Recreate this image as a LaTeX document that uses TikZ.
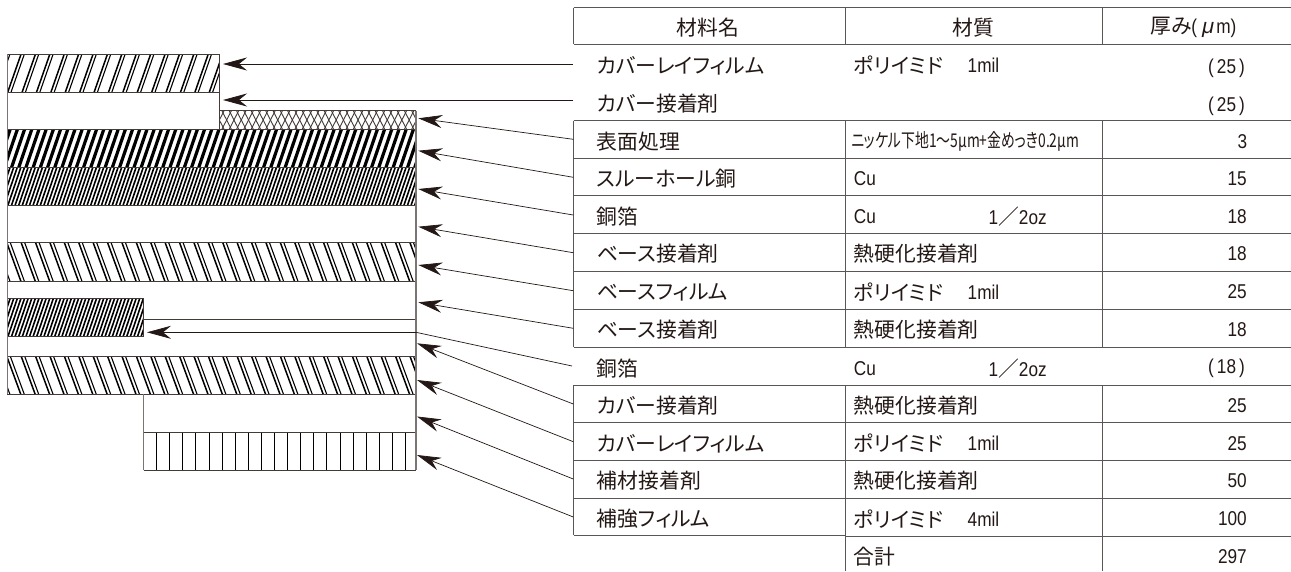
\documentclass[tikz,border=0pt]{standalone}
\usepackage{fontspec}
\usetikzlibrary{arrows.meta}
\newfontfamily\jpfont[RawFeature=+palt]{Noto Sans CJK JP}
\newfontfamily\jpnarrow[FakeStretch=0.73,RawFeature=+palt]{Noto Sans CJK JP}
\newfontfamily\latnarrow[FakeStretch=0.86]{Liberation Sans}
\newfontfamily\muslant[FakeSlant=0.2]{Liberation Sans}
\newcommand{\jt}[1]{{\fontsize{20.8}{22}\jpfont #1}}
\newcommand{\jn}[1]{{\fontsize{19}{20}\jpnarrow #1}}
\newcommand{\lt}[1]{{\fontsize{20}{20}\latnarrow #1}}
\newcommand{\mus}{{\fontsize{21}{21}\muslant μ}}
\newcommand{\paren}[1]{\lt{(\hspace{3pt}#1\hspace{3pt})}}
\definecolor{ink}{HTML}{231815}
\definecolor{rulegray}{HTML}{5A5654}
\tikzset{
  lbl/.style={anchor=west,inner sep=0pt,text=ink},
  num/.style={anchor=east,inner sep=0pt,text=ink},
  ctr/.style={anchor=center,inner sep=0pt,text=ink},
  rowrule/.style={draw=rulegray,line width=0.9pt},
  layerline/.style={draw=ink!85!white,line width=0.9pt},
  edgeline/.style={draw=ink!60!white,line width=1pt},
  hatchA/.style={draw=black,line width=1.5pt},
  hatchB/.style={draw=black,line width=1.1pt},
  hatchC/.style={draw=black,line width=3.2pt},
  hatchD/.style={draw=black,line width=1.6pt},
  hatchX/.style={draw=ink!85!white,line width=0.9pt},
  hatchV/.style={draw=black,line width=0.9pt},
  ptr/.style={draw=ink,line width=0.7pt,-{Stealth[length=24pt,width=13pt,inset=8pt]}},
  lead/.style={draw=ink,line width=0.7pt},
}
\begin{document}
\begin{tikzpicture}[x=1pt,y=-1pt]
\useasboundingbox (0,0) rectangle (1291,571);
\fill[white] (0,0) rectangle (1291,571);

% ---- layer hatching
\begin{scope}
  \clip (7,54) rectangle (219.5,92);
  \foreach \x in {-21,-6.6,...,225} {
    \draw[hatchA] (\x,92) -- ++(13.3,-38);
    \draw[hatchB] (\x+3.3,92) -- ++(13.3,-38);
  }
\end{scope}
\begin{scope}
  \clip (219.5,110.7) rectangle (416,129.3);
  \foreach \x in {200,207.3,...,430} {
    \draw[hatchX] (\x,129.3) -- ++(9.5,-18.6);
    \draw[hatchX] (\x,110.7) -- ++(9.5,18.6);
  }
\end{scope}
\begin{scope}
  \clip (7,129.3) rectangle (416,167.3);
  \foreach \x in {-10,-2.8,...,425} {
    \draw[hatchC] (\x,167.3) -- ++(13,-38);
  }
\end{scope}
\begin{scope}
  \clip (7,167.3) rectangle (416,205);
  \foreach \x in {-10,-6.4,...,425} {
    \draw[hatchD] (\x,205) -- ++(13,-38);
  }
\end{scope}
\begin{scope}
  \clip (7,298.3) rectangle (143.5,336.3);
  \foreach \x in {-10,-6.4,...,150} {
    \draw[hatchD] (\x,336.3) -- ++(13,-38);
  }
\end{scope}
\begin{scope}
  \clip (7,242.7) rectangle (416,281);
  \foreach \x in {-22,-7.6,...,425} {
    \draw[hatchA] (\x,242.7) -- ++(14,38.3);
    \draw[hatchB] (\x+3.5,242.7) -- ++(14,38.3);
  }
\end{scope}
\begin{scope}
  \clip (7,356.3) rectangle (416,394.3);
  \foreach \x in {-22,-7.6,...,425} {
    \draw[hatchA] (\x,356.3) -- ++(14,38);
    \draw[hatchB] (\x+3.5,356.3) -- ++(14,38);
  }
\end{scope}
\foreach \x in {156.6,169.7,...,412} {
  \draw[hatchV] (\x,432) -- (\x,470);
}

% ---- layer outlines
\draw[layerline] (7,54) -- (219.5,54) -- (219.5,129.3);
\draw[layerline] (7,92) -- (219.5,92);
\draw[layerline] (219.5,110.7) -- (416,110.7);
\foreach \y in {129.3,167.3,205,242.7,281,356.3,394.3} {
  \draw[layerline] (7,\y) -- (416,\y);
}
\draw[layerline] (143.5,319) -- (416,319);
\draw[layerline] (7,298.3) rectangle (143.5,336.3);
\draw[layerline] (143.5,432) -- (416,432);
\draw[layerline] (143.5,470) -- (416,470);
\draw[edgeline] (7,54) -- (7,394.3);
\draw[edgeline] (143.5,394.3) -- (143.5,470);
\draw[edgeline,line width=1.2pt] (416,110.7) -- (416,470);

% ---- table rules
\foreach \y in {7.5,44.3} { \draw[rowrule] (573.5,\y) -- (1291,\y); }
\foreach \y in {120.5,158,195.7,233,271,309,347,385,422.5,460,498} {
  \draw[rowrule] (573.5,\y) -- (1291,\y);
}
\draw[rowrule] (845.4,536) -- (1291,536);
\draw[rowrule] (573.5,535) -- (845.4,535);
\foreach \x in {573.5,845.4,1102.4} {
  \draw[rowrule] (\x,7.5) -- (\x,44.3);
  \draw[rowrule] (\x,120.5) -- (\x,347);
}
\draw[rowrule] (573.5,385) -- (573.5,535);
\foreach \x in {845.4,1102.4} { \draw[rowrule] (\x,385) -- (\x,571); }

% ---- header
\node[ctr] (h1) at (708,27.5) {\jt{材料名}};
\node[ctr] (h2) at (973,27.5) {\jt{材質}};
\node[ctr] (h3) at (1193.3,27.5) {\jt{厚み}\lt{(\hspace{4pt}}\mus\lt{\hspace{3pt}m)}};

% ---- rows
\node[lbl] (n1) at (596.7,65.5) {\jt{カバーレイフィルム}};
\node[lbl] (m1) at (853.7,65.5) {\jt{ポリイミド}};
\node[lbl] (s1) at (967.5,65.5) {\lt{1mil}};
\node[num] (t1) at (1245,68.5) {\paren{25}};
\node[lbl] (n2) at (596.7,103.5) {\jt{カバー接着剤}};
\node[num] (t2) at (1245,106.5) {\paren{25}};
\node[lbl] (n3) at (596.7,141.5) {\jt{表面処理}};
\node[lbl] (m3) at (851.4,141.5) {\jn{ニッケル下地1〜5μm+金めっき0.2μm}};
\node[num] (t3) at (1247.5,141.5) {\lt{3}};
\node[lbl] (n4) at (596.7,179) {\jt{スルーホール銅}};
\node[lbl] (m4) at (853.7,179) {\lt{Cu}};
\node[num] (t4) at (1247,179) {\lt{15}};
\node[lbl] (n5) at (596.7,216.5) {\jt{銅箔}};
\node[lbl] (m5) at (853.7,216.5) {\lt{Cu}};
\node[lbl] (s5) at (988.4,216.5) {\lt{1}\jt{／}\lt{2oz}};
\node[num] (t5) at (1247,216.5) {\lt{18}};
\node[lbl] (n6) at (596.7,254) {\jt{ベース接着剤}};
\node[lbl] (m6) at (853.7,254) {\jt{熱硬化接着剤}};
\node[num] (t6) at (1247,254) {\lt{18}};
\node[lbl] (n7) at (596.7,292) {\jt{ベースフィルム}};
\node[lbl] (m7) at (853.7,292) {\jt{ポリイミド}};
\node[lbl] (s7) at (967.5,292) {\lt{1mil}};
\node[num] (t7) at (1247,292) {\lt{25}};
\node[lbl] (n8) at (596.7,330) {\jt{ベース接着剤}};
\node[lbl] (m8) at (853.7,330) {\jt{熱硬化接着剤}};
\node[num] (t8) at (1247,330) {\lt{18}};
\node[lbl] (n9) at (596.7,368.5) {\jt{銅箔}};
\node[lbl] (m9) at (853.7,368.5) {\lt{Cu}};
\node[lbl] (s9) at (988.4,368.5) {\lt{1}\jt{／}\lt{2oz}};
\node[num] (t9) at (1245,368.5) {\paren{18}};
\node[lbl] (n10) at (596.7,406) {\jt{カバー接着剤}};
\node[lbl] (m10) at (853.7,406) {\jt{熱硬化接着剤}};
\node[num] (t10) at (1247,406) {\lt{25}};
\node[lbl] (n11) at (596.7,443.5) {\jt{カバーレイフィルム}};
\node[lbl] (m11) at (853.7,443.5) {\jt{ポリイミド}};
\node[lbl] (s11) at (967.5,443.5) {\lt{1mil}};
\node[num] (t11) at (1247,443.5) {\lt{25}};
\node[lbl] (n12) at (596.7,481) {\jt{補材接着剤}};
\node[lbl] (m12) at (853.7,481) {\jt{熱硬化接着剤}};
\node[num] (t12) at (1247,481) {\lt{50}};
\node[lbl] (n13) at (596.7,519) {\jt{補強フィルム}};
\node[lbl] (m13) at (853.7,519) {\jt{ポリイミド}};
\node[lbl] (s13) at (967.5,519) {\lt{4mil}};
\node[num] (t13) at (1247,519) {\lt{100}};
\node[lbl] (m14) at (853.7,557) {\jt{合計}};
\node[num] (t14) at (1247,557) {\lt{297}};

% ---- connector end points
\coordinate (a1) at (573,64);      \coordinate (b1) at (223,64);
\coordinate (a2) at (573,100);     \coordinate (b2) at (223,100);
\coordinate (a3) at (573.3,139.3); \coordinate (b3) at (418.3,118.3);
\coordinate (a4) at (573.3,177.3); \coordinate (b4) at (418.3,150.7);
\coordinate (a5) at (573.3,215);   \coordinate (b5) at (418.3,189);
\coordinate (a6) at (573.3,252.7); \coordinate (b6) at (418.3,226.7);
\coordinate (a7) at (573.3,290.7); \coordinate (b7) at (418.3,265);
\coordinate (a8) at (573.3,328.3); \coordinate (b8) at (418.3,302.3);
\coordinate (a9) at (572,366);     \coordinate (k9) at (416,332.3); \coordinate (b9) at (147,332.3);
\coordinate (a10) at (573.3,404);  \coordinate (b10) at (417,343.3);
\coordinate (a11) at (573.3,441.7);\coordinate (b11) at (417,380);
\coordinate (a12) at (573.3,479);  \coordinate (b12) at (417,416.5);
\coordinate (a13) at (573.3,517);  \coordinate (b13) at (417,455);

\foreach \i in {1,2,3,4,5,6,7,8,10,11,12,13} {
  \draw[ptr] (a\i) -- (b\i);
}
\draw[lead] (a9) -- (k9);
\draw[ptr] (k9) -- (b9);
\end{tikzpicture}
\end{document}
